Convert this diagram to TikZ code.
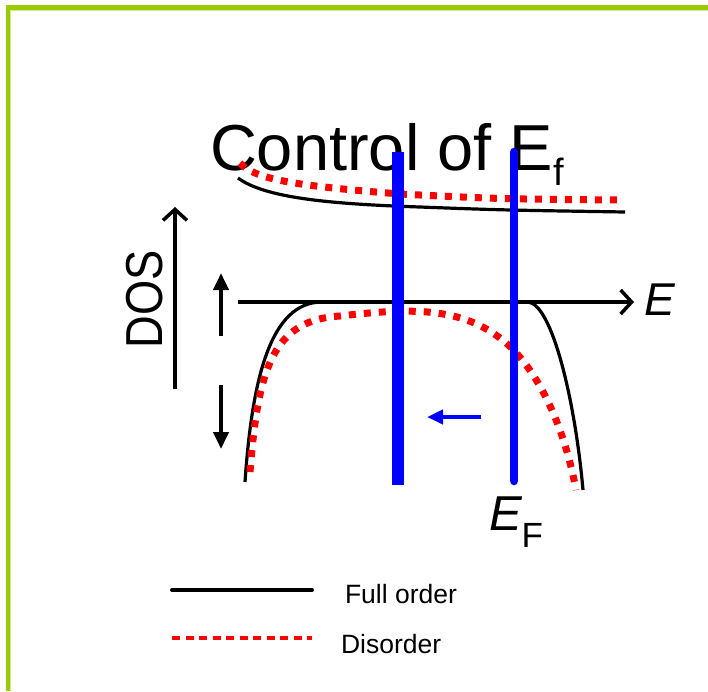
\documentclass[tikz,border=0pt]{standalone}
\usepackage{fontspec}
\setmainfont{Liberation Sans}
\usetikzlibrary{arrows.meta}
\definecolor{bordergreen}{HTML}{99CC00}
\definecolor{borderlight}{HTML}{D6EB99}
\definecolor{eblue}{HTML}{0000FF}
\definecolor{dred}{HTML}{FF0000}
\tikzset{
  border/.style={bordergreen,line width=4.5pt},
  fullorder/.style={black,line width=3.2pt},
  disorder/.style={dred,line width=7pt,dash pattern=on 7pt off 8pt},
  axisline/.style={black,line width=3.5pt,-{Straight Barb[length=11pt,width=24pt,line width=3.5pt]}},
  smallarrow/.style={black,line width=4pt,-{Triangle[length=17pt,width=15pt]}},
  fermi/.style={eblue},
  lab/.style={inner sep=0pt,outer sep=0pt},
}
\begin{document}
\begin{tikzpicture}[x=1pt,y=-1pt]
\useasboundingbox (0,0) rectangle (708,691);
% border
\draw[border] (8,691) coordinate (bl) -- (8,7.5) coordinate (tl) -- (708,7.5) coordinate (tr);
\draw[borderlight,line width=1pt] (10.8,691) -- (10.8,10.3) -- (708,10.3);
% title
\node[lab,anchor=base west] (title) at (210,170)
  {\fontsize{65}{65}\selectfont Control of E\raisebox{-15pt}{\fontsize{38}{38}\selectfont f}};
% axes
\coordinate (eaxs) at (238,302);
\coordinate (eaxe) at (634,302);
\draw[axisline] (eaxs) -- (eaxe);
\node[lab,anchor=base west] (elab) at (644,315) {\fontsize{46}{46}\selectfont\itshape E};
\coordinate (dosb) at (175,389);
\coordinate (dost) at (175,207);
\draw[axisline] (dosb) -- (dost);
\node[lab,rotate=90] (doslab) at (145,299) {\fontsize{52}{52}\selectfont\scalebox{0.87}[1]{DOS}};
% small arrows
\coordinate (upb) at (221,336);
\coordinate (upt) at (221,273);
\draw[smallarrow] (upb) -- (upt);
\coordinate (dnt) at (221,385);
\coordinate (dnb) at (221,449);
\draw[smallarrow] (dnt) -- (dnb);
% top band
\draw[fullorder] (238,178) .. controls (265,198) and (330,204) .. (420,207)
  .. controls (500,210) .. (625,212);
\draw[disorder] (240,163) .. controls (255,180) and (300,186) .. (400,194)
  .. controls (500,199) .. (622,200);
% lower band
\draw[fullorder] (245,482) .. controls (252,380) and (270,302) .. (322,302)
  -- (528,302) .. controls (552,304) and (575,400) .. (583,490);
\draw[disorder] (250,472) .. controls (258,370) and (272,320) .. (340,316)
  .. controls (410,308) and (462,306) .. (505,342)
  .. controls (540,372) and (565,430) .. (576,490);
% Fermi levels
\coordinate (f1t) at (398,152);
\coordinate (f1b) at (398,485);
\draw[fermi,line width=12pt] (f1t) -- (f1b);
\coordinate (f2t) at (514,152);
\coordinate (f2b) at (514,481);
\draw[fermi,line width=8.5pt,line cap=round] (f2t) -- (f2b);
\coordinate (sbs) at (481,417);
\coordinate (sbe) at (427,417);
\draw[eblue,line width=4pt,-{Triangle[length=16pt,width=14pt]}] (sbs) -- (sbe);
\node[lab,anchor=base west] (eflab) at (489,530) {\fontsize{49}{49}\selectfont\itshape E\raisebox{-17pt}{\upshape\fontsize{35}{35}\selectfont F}};
% legend
\coordinate (l1a) at (172,590);
\coordinate (l1b) at (312,590);
\draw[black,line width=4pt,line cap=round] (l1a) -- (l1b);
\node[lab,anchor=base west] (l1t) at (345,603) {\fontsize{26.5}{26.5}\selectfont Full order};
\coordinate (l2a) at (172,638);
\coordinate (l2b) at (312,638);
\draw[dred,line width=4pt,dash pattern=on 8pt off 5.5pt] (l2a) -- (l2b);
\node[lab,anchor=base west] (l2t) at (341,653) {\fontsize{26.5}{26.5}\selectfont Disorder};
\end{tikzpicture}
\end{document}
